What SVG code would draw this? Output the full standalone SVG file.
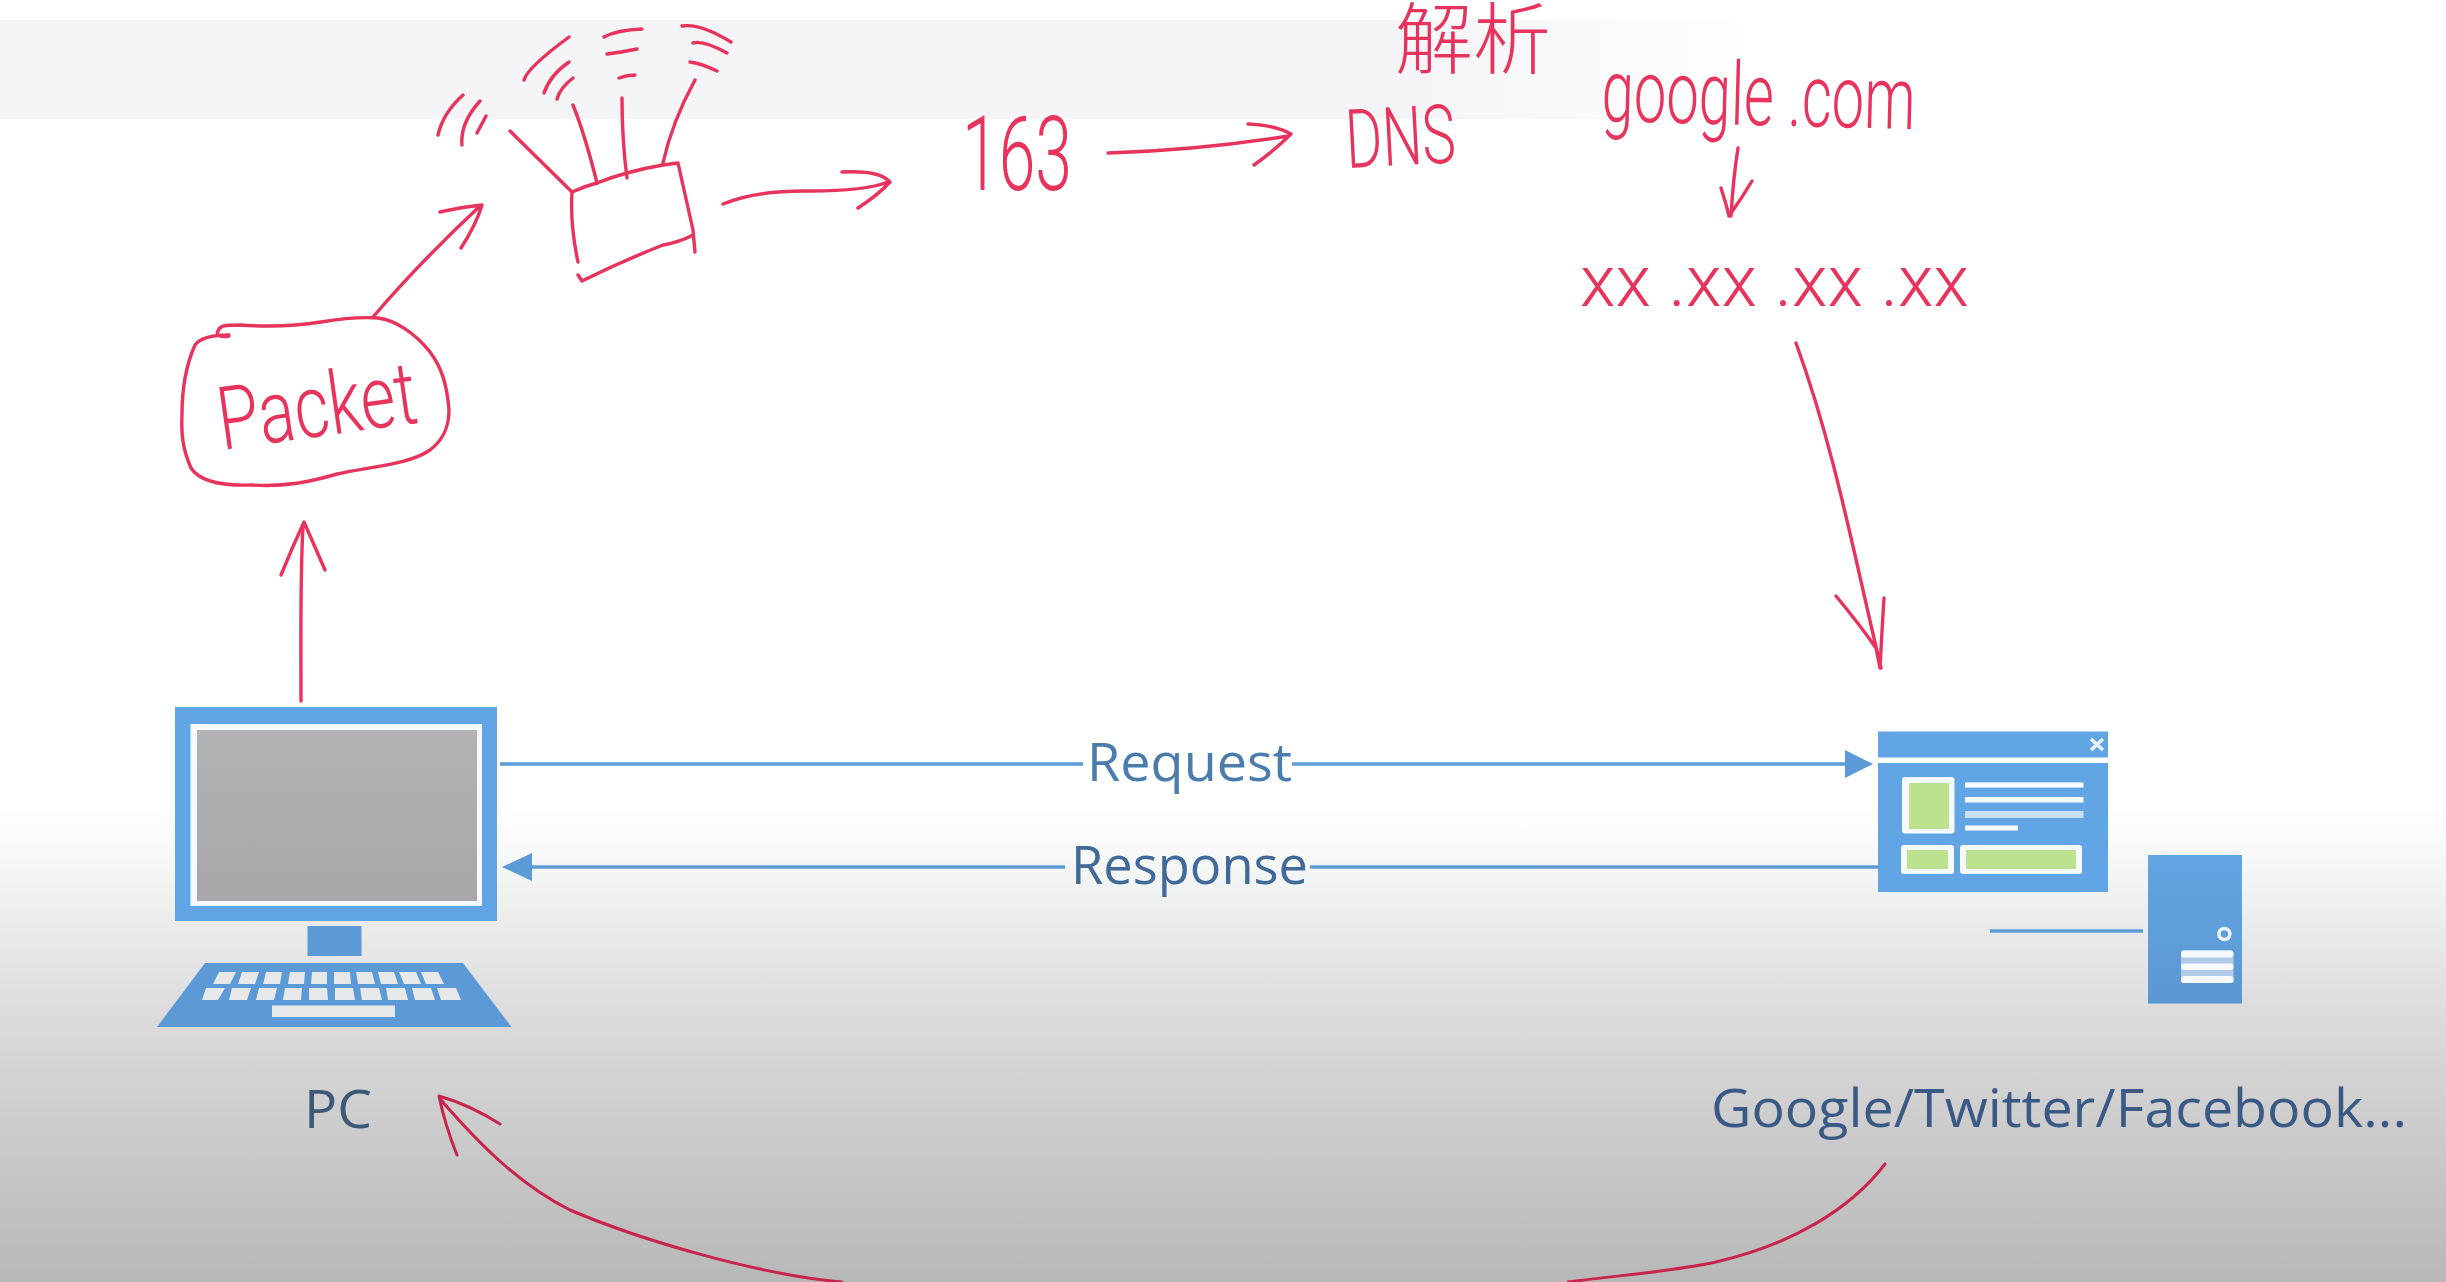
<svg xmlns="http://www.w3.org/2000/svg" width="2446" height="1282" viewBox="0 0 2446 1282">
<style>
.ink{fill:none;stroke:#e8335c;stroke-width:3.4;stroke-linecap:round;stroke-linejoin:round}
.dark{stroke:#c9244b;stroke-width:3}
.hand{fill:#e8335c;font-family:"Roboto","Noto Sans CJK SC",sans-serif;font-weight:300}
.label{font-family:"Open Sans","Noto Sans",sans-serif;font-size:53px}
.wire{fill:none;stroke:#5d9cd8;stroke-width:3.5}
.head{fill:#5b9bd8}
.blue{fill:#62a5e4}
.blue2{fill:#5b9ad6}
.wh{fill:#f7fafd}
.grn{fill:#bde28f}
.key{fill:#e6e8ea}
</style>
<defs>
<linearGradient id="bg" x1="0" y1="0" x2="0" y2="1282" gradientUnits="userSpaceOnUse">
<stop offset="0.63" stop-color="#ffffff"/><stop offset="0.68" stop-color="#f4f5f5"/><stop offset="0.78" stop-color="#dedede"/><stop offset="0.88" stop-color="#cccccc"/><stop offset="1" stop-color="#b8b8b8"/>
</linearGradient>
<linearGradient id="band" x1="0" y1="0" x2="1760" y2="0" gradientUnits="userSpaceOnUse">
<stop offset="0" stop-color="#f5f4f6"/><stop offset="0.8" stop-color="#f5f4f6"/><stop offset="1" stop-color="#ffffff"/>
</linearGradient>
<linearGradient id="screen" x1="0" y1="0" x2="0" y2="1">
<stop offset="0" stop-color="#b3b3b3"/><stop offset="1" stop-color="#a9a7a9"/>
</linearGradient>
<linearGradient id="srv" x1="0" y1="0" x2="0" y2="1">
<stop offset="0" stop-color="#62a5e2"/><stop offset="1" stop-color="#5b98d2"/>
</linearGradient>
</defs>
<rect width="2446" height="1282" fill="url(#bg)"/>
<rect x="0" y="20" width="1760" height="99" fill="url(#band)"/>

<g id="connectors">
<path class="wire" d="M500 764H1083M1292 764H1850"/>
<path class="head" d="M1873 764L1845 750V778Z"/>
<path class="wire" d="M530 867H1065M1310 867H1878"/>
<path class="head" d="M502 867L532 853V881Z"/>
<path class="wire" d="M1990 931H2143"/>
<g id="ink-arrows">
<path class="ink" d="M301 701C301 640 300 580 303 526M281 575Q292 548 304 522Q314 545 325 570"/>
<path class="ink" d="M373 317Q420 262 480 206M440 212Q462 207 482 205Q476 225 461 248"/>
<path class="ink" d="M723 204Q757 190 811 191Q865 191 888 182M842 172Q880 170 890 182Q878 195 858 208"/>
<path class="ink" d="M1108 153Q1200 150 1288 136M1248 124Q1275 125 1291 134Q1275 150 1254 165"/>
<path class="ink" d="M1738 148Q1733 180 1731 216M1721 188Q1726 203 1729 216Q1742 198 1752 181"/>
<path class="ink" d="M1796 343C1835 450 1855 560 1881 668M1836 596Q1860 625 1876 648Q1878 658 1880 668Q1882 630 1884 598"/>
<path class="ink dark" d="M1885 1164C1850 1210 1790 1245 1716 1262C1670 1272 1620 1275 1568 1282M842 1282C760 1275 640 1240 570 1210C520 1185 480 1145 441 1100M457 1155Q445 1125 439 1096Q470 1105 500 1124"/>
</g>
</g>

<g id="packet">
<path class="ink" d="M229 336C220 338 216 335 218 331C220 325 226 325 240 325C270 327 296 326 321 322C345 318 365 317 378 318C395 320 415 333 430 352C442 368 447 385 449 410C449 428 443 440 430 450C410 464 375 466 337 474C310 482 285 487 252 485C225 486 200 482 191 468C183 450 181 435 182 415C182 390 186 365 195 345C200 338 212 335 229 335"/>
<text class="hand" x="0" y="0" font-size="88" textLength="200" lengthAdjust="spacingAndGlyphs" transform="translate(222 450) rotate(-8)">Packet</text>
</g>

<g id="router">
<path class="ink" d="M572 192Q585 186 597 183Q612 177 627 173Q645 168 663 165L678 163M678 163L693 230L695 252M572 192Q570 225 578 262M693 235Q680 242 663 245Q620 262 582 281L578 275"/>
<path class="ink" d="M510 131L572 192M573 105Q585 135 597 183M622 98Q622 140 627 178M695 80Q672 122 663 163"/>
<path class="ink" d="M438 135Q443 113 463 95M462 145Q460 123 480 101M477 133L486 116M524 80Q527 68 569 37M544 93Q550 75 569 62M557 99Q560 88 573 78M604 37Q617 30 642 29M607 54Q623 52 637 49M619 78Q627 75 635 75M682 26Q700 23 731 42M693 43Q703 40 727 53M690 62Q700 63 717 71"/>
</g>

<g id="n163"><text class="hand" x="962" y="190" font-size="104" textLength="110" lengthAdjust="spacingAndGlyphs">163</text></g>
<g id="dns"><text class="hand" x="0" y="0" font-size="82" textLength="110" lengthAdjust="spacingAndGlyphs" transform="translate(1347 168) rotate(-3)">DNS</text></g>
<g id="parse"><text class="hand" x="1395" y="68" font-size="78">解析</text></g>
<g id="domain"><text class="hand" x="0" y="0" font-size="88" textLength="314" lengthAdjust="spacingAndGlyphs" transform="translate(1601 121) rotate(1.500)">google .com</text></g>
<g id="ip"><text class="hand" x="1580" y="306" font-size="72" textLength="389" lengthAdjust="spacingAndGlyphs">xx .xx .xx .xx</text></g>

<g id="pc">
<rect class="blue" x="175" y="707" width="322" height="214"/>
<rect class="wh" x="190.500" y="724" width="291.500" height="182"/>
<rect x="197" y="730" width="280" height="171" fill="url(#screen)"/>
<rect class="blue2" x="307.500" y="926" width="54" height="30"/>
<path class="blue2" d="M205 963H463L511.500 1027H157Z"/>
<g class="key">
<path d="M219 972H236L230 984H213ZM242 972H259L255 984H238ZM266 972H282L280 984H263ZM290 972H305L304 984H288ZM312 972H327L327 984H311ZM334 972H350L351 984H334ZM356 972H372L375 984H358ZM378 972H394L398 984H381ZM399 972H416L421 984H404ZM421 972H438L444 984H426Z"/>
<path d="M206 988H225L218 1000H202ZM232 988H251L247 1000H229ZM259 988H277L274 1000H256ZM285 988H302L301 1000H283ZM309 988H327L328 1000H309ZM335 988H353L355 1000H335ZM360 988H379L382 1000H362ZM386 988H405L408 1000H388ZM412 988H431L435 1000H415ZM437 988H456L461 1000H441Z"/>
<rect x="272" y="1005.500" width="123" height="11.500"/>
</g>
<text class="label" x="304" y="1128" fill="#3e5878" textLength="68" lengthAdjust="spacingAndGlyphs">PC</text>
</g>

<g id="window">
<rect class="blue" x="1878" y="731.500" width="230" height="26"/>
<path d="M2091 739L2103 750M2103 739L2091 750" stroke="#eef4fb" stroke-width="3.500" fill="none"/>
<rect class="blue" x="1878" y="763" width="230" height="129"/>
<rect class="wh" x="1902" y="777" width="52.500" height="56.600" rx="3"/>
<rect class="grn" x="1909" y="783" width="40" height="46"/>
<g class="wh">
<rect x="1965" y="782.400" width="118.500" height="5.200"/>
<rect x="1965" y="797" width="118.500" height="5.500"/>
<rect x="1965" y="811" width="118.500" height="7" opacity="0.700"/>
<rect x="1965" y="825.500" width="53" height="5"/>
<rect x="1901" y="845" width="53" height="29" rx="3"/>
<rect x="1960" y="845" width="122" height="29" rx="3"/>
</g>
<rect class="grn" x="1907" y="850" width="41" height="19"/>
<rect class="grn" x="1966" y="850" width="110" height="19"/>
</g>

<g id="server">
<rect x="2148" y="855" width="94" height="148.600" fill="url(#srv)"/>
<circle cx="2224.400" cy="934" r="5.500" fill="none" stroke="#f0f5fb" stroke-width="3.500"/>
<rect x="2181" y="950.500" width="52.500" height="32.500" rx="3" fill="#b0cbe8"/>
<g class="wh">
<rect x="2181" y="950.500" width="52.500" height="7" rx="3"/>
<rect x="2181" y="963.500" width="52.500" height="6.500" rx="3"/>
<rect x="2181" y="976" width="52.500" height="7" rx="3"/>
</g>
<text class="label" x="1711" y="1127" fill="#3a5a85" textLength="696" lengthAdjust="spacingAndGlyphs">Google/Twitter/Facebook...</text>
</g>

<g id="labels">
<text class="label" x="1087" y="781" fill="#4a7dae" textLength="205" lengthAdjust="spacingAndGlyphs">Request</text>
<text class="label" x="1071" y="884" fill="#41699a" textLength="237" lengthAdjust="spacingAndGlyphs">Response</text>
</g>
</svg>
